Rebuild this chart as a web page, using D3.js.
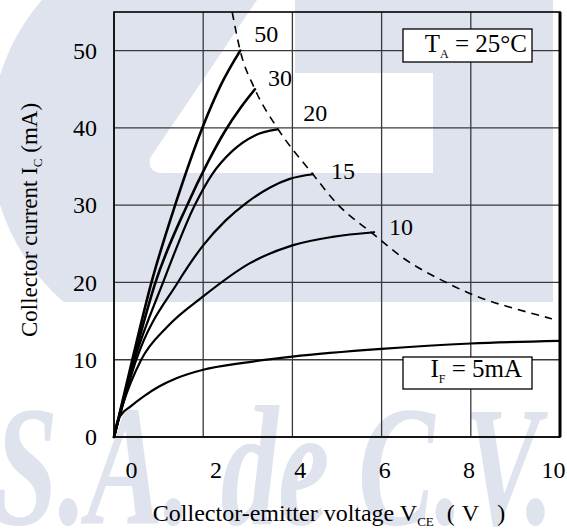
<!DOCTYPE html>
<html>
<head>
  <meta charset="UTF-8">
  <title>Collector current vs. collector-emitter voltage</title>
  <script src="https://cdn.jsdelivr.net/npm/d3@7"></script>
  <style>
    body { margin: 0; background: #fff; }
    text, tspan { font-family: "Liberation Serif" !important; }
  </style>
</head>
<body>
<script>
  const forwardCurrents = [5, 10, 15, 20, 30, 50];
  const curve5  = [[0, 0], [0.05, 1.5], [0.15, 2.8], [0.36, 3.9], [0.65, 5.2], [1, 6.5], [1.4, 7.6], [2, 8.7], [2.9, 9.6], [4, 10.4], [6, 11.4], [8, 12.1], [10, 12.45]];
  const curve10 = [[0, 0], [0.2, 4.2], [0.61, 10], [1.2, 14.3], [2, 18.2], [3.05, 22.5], [4, 24.8], [4.9, 25.9], [5.83, 26.5]];
  const curve15 = [[0, 0], [0.5, 10], [1.43, 20], [2, 24.8], [2.5, 28], [2.97, 30.3], [3.5, 32.3], [3.94, 33.4], [4.46, 34]];
  const curve20 = [[0, 0], [0.46, 10], [1.1, 20], [1.81, 30], [2.2, 34], [2.65, 37], [3.15, 39], [3.66, 39.8]];
  const curve30 = [[0, 0], [0.44, 10], [0.93, 20], [1.64, 30], [2.1, 35.5], [2.48, 39.5], [2.85, 42.7], [3.16, 45]];
  const curve50 = [[0, 0], [0.41, 10], [0.84, 20], [1.37, 30], [1.98, 40], [2.4, 45.6], [2.83, 50]];
  const curves = [curve5, curve10, curve15, curve20, curve30, curve50];

  // Maximum collector power dissipation (dashed)
  const dissipationLimit = [[2.65, 55], [2.83, 50], [3.16, 45], [3.66, 40], [4.46, 34], [5.0, 30.2], [5.83, 26.2], [6.5, 23.1], [7.38, 20.2], [8.27, 17.9], [9.0, 16.6], [9.82, 15.3]];

  const xTicks = [0, 2, 4, 6, 8, 10];
  const yTicks = [0, 10, 20, 30, 40, 50];
  const ambientLabel = "25°C";
  const lowestLabel = "5mA";

  const W = 567, H = 531;
  const margin = { top: 12, right: 7, bottom: 94, left: 114 };
  const pw = W - margin.left - margin.right;
  const ph = H - margin.top - margin.bottom;
  const tint = "#dfe3ee";
  const serif = "Liberation Serif";

  const x = d3.scaleLinear().domain([0, 10]).range([0, pw]);
  const y = d3.scaleLinear().domain([0, 55]).range([ph, 0]);
  // the printed tick numbers sit a little off the grid lines in the original sheet
  const xLabel = d3.scaleLinear().domain([0, 10]).range([17, 439]);

  const svg = d3.select("body").append("svg")
      .attr("width", W)
      .attr("height", H)
      .attr("font-family", serif);

  // faint company watermark behind the chart
  const wm = svg.append("g").attr("fill", tint);
  wm.append("clipPath").attr("id", "wmclip")
    .append("rect").attr("x", 0).attr("y", 0).attr("width", W).attr("height", 302);
  const wmShapes = wm.append("g").attr("clip-path", "url(#wmclip)");
  wmShapes.append("circle").attr("cx", 205).attr("cy", 140).attr("r", 215);
  wmShapes.append("rect").attr("x", 100).attr("y", 173).attr("width", 453).attr("height", 129);
  wmShapes.append("rect").attr("x", 295).attr("y", 0).attr("width", 160).attr("height", 73);
  wmShapes.append("rect").attr("x", 433).attr("y", -30).attr("width", 120).attr("height", 332).attr("rx", 24);
  wm.append("path")
    .attr("fill", "#fff")
    .attr("d", "M257,0 L295,0 L295,73 L433,73 L433,173 L162,173 Q148,173 150,158 Z");
  wm.append("text")
    .attr("x", -6).attr("y", 524)
    .attr("font-family", serif)
    .attr("font-size", 172)
    .attr("font-style", "italic")
    .attr("font-weight", "bold")
    .attr("textLength", 560)
    .attr("lengthAdjust", "spacingAndGlyphs")
    .text("S.A. de C.V.");

  const g = svg.append("g").attr("transform", `translate(${margin.left},${margin.top})`);

  // grid
  g.append("g").selectAll("line").data(xTicks).join("line")
      .attr("x1", d => x(d)).attr("x2", d => x(d))
      .attr("y1", 0).attr("y2", ph)
      .attr("stroke", "#3a3a3a").attr("stroke-width", 1.3);
  g.append("g").selectAll("line").data(yTicks).join("line")
      .attr("x1", 0).attr("x2", pw)
      .attr("y1", d => y(d)).attr("y2", d => y(d))
      .attr("stroke", "#3a3a3a").attr("stroke-width", 1.3);

  // frame
  g.append("rect")
      .attr("width", pw).attr("height", ph)
      .attr("fill", "none").attr("stroke", "#000").attr("stroke-width", 1.6);
  g.append("line")
      .attr("x1", pw).attr("x2", pw).attr("y1", 0).attr("y2", ph)
      .attr("stroke", "#000").attr("stroke-width", 3);

  // axes (labels only)
  const xAxis = g.append("g")
      .attr("transform", `translate(0,${ph})`)
      .call(d3.axisBottom(xLabel).tickValues(xTicks).tickSize(0).tickPadding(24));
  const yAxis = g.append("g")
      .call(d3.axisLeft(y).tickValues(yTicks).tickSize(0).tickPadding(17));
  [xAxis, yAxis].forEach(a => {
    a.attr("font-family", serif).attr("font-size", 24);
    a.select(".domain").remove();
    a.selectAll("text").attr("fill", "#000");
  });

  const line = d3.line()
      .x(d => x(d[0]))
      .y(d => y(d[1]))
      .curve(d3.curveMonotoneX);

  g.append("path")
      .datum(dissipationLimit)
      .attr("d", line)
      .attr("fill", "none")
      .attr("stroke", "#000")
      .attr("stroke-width", 1.6)
      .attr("stroke-dasharray", "8,6");

  g.append("g").selectAll("path").data(curves).join("path")
      .attr("d", line)
      .attr("fill", "none")
      .attr("stroke", "#000")
      .attr("stroke-width", (d, i) => forwardCurrents[i] >= 30 ? 2.6 : 2.2)
      .attr("stroke-linecap", "round");

  // curve labels next to the end of each curve (pixel nudges)
  const labelNudge = { 10: [27, -6], 15: [30, -4], 20: [38, -17], 30: [25, -12], 50: [26, -17] };
  g.append("g").selectAll("text")
      .data(forwardCurrents.map((f, i) => ({ f, end: curves[i][curves[i].length - 1] })).filter(d => labelNudge[d.f]))
      .join("text")
      .attr("font-family", serif)
      .attr("x", d => x(d.end[0]) + labelNudge[d.f][0])
      .attr("y", d => y(d.end[1]) + labelNudge[d.f][1])
      .attr("dy", "0.35em")
      .attr("text-anchor", "middle")
      .attr("font-size", 24)
      .text(d => d.f);

  // boxed annotations
  function box(bx, by, bw, bh, parts, tx, ty) {
    const b = g.append("g");
    b.append("rect")
      .attr("x", bx).attr("y", by).attr("width", bw).attr("height", bh)
      .attr("fill", "#fff").attr("stroke", "#000").attr("stroke-width", 1.3);
    const t = b.append("text")
      .attr("font-family", serif)
      .attr("x", tx).attr("y", ty)
      .attr("text-anchor", "end")
      .attr("font-size", 25);
    t.append("tspan").text(parts[0]);
    t.append("tspan").attr("font-size", 12).attr("dy", 6).text(parts[1]);
    t.append("tspan").attr("dy", -6).text(parts[2]);
  }
  box(pw - 157, 17, 129, 33, ["T", "A", " = " + ambientLabel], pw - 33, 40);
  box(pw - 157, ph - 80, 129, 32, ["I", "F", " = " + lowestLabel], pw - 38, ph - 60);

  // axis titles
  const xt = svg.append("text")
      .attr("font-family", serif)
      .attr("x", 329).attr("y", 521)
      .attr("text-anchor", "middle")
      .attr("font-size", 24);
  xt.append("tspan").text("Collector-emitter voltage V");
  xt.append("tspan").attr("font-size", 13).attr("dy", 5).text("CE");
  xt.append("tspan").attr("dy", -5).attr("dx", 13).text("(");
  xt.append("tspan").attr("dx", 7).text("V");
  xt.append("tspan").attr("dx", 18).text(")");

  const yt = svg.append("text")
      .attr("font-family", serif)
      .attr("transform", "translate(37,220) rotate(-90)")
      .attr("text-anchor", "middle")
      .attr("font-size", 23);
  yt.append("tspan").text("Collector current I");
  yt.append("tspan").attr("font-size", 13).attr("dy", 5).text("C");
  yt.append("tspan").attr("dy", -5).text(" (mA)");
</script>
</body>
</html>
